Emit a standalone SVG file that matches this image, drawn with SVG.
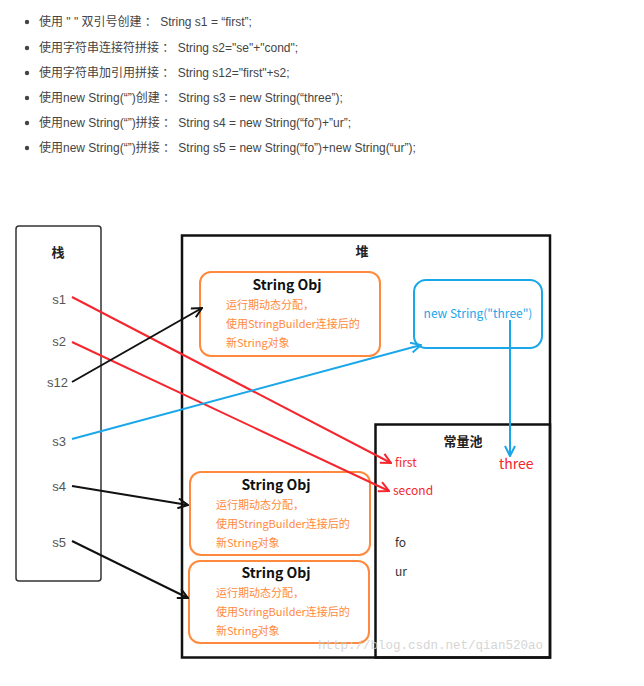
<svg xmlns="http://www.w3.org/2000/svg" width="644" height="686" viewBox="0 0 644 686">
<style>
.li{font-family:"Liberation Sans","Noto Sans CJK SC",sans-serif;font-size:12px;fill:#444}
.cn{font-family:"Noto Sans CJK SC",sans-serif}
.lbl{font-family:"Liberation Sans","Noto Sans CJK SC",sans-serif;font-size:13px;fill:#555;text-anchor:end}
.hd{font-family:"Noto Sans CJK SC",sans-serif;font-size:13px;font-weight:bold;fill:#222;text-anchor:middle}
.obj{fill:#fff;stroke:#ff8a3d;stroke-width:2}
.ot{font-family:"Noto Sans CJK SC","Liberation Sans",sans-serif;font-size:14px;font-weight:bold;fill:#111;text-anchor:middle}
.od{font-family:"Noto Sans CJK SC",sans-serif;font-size:11px;fill:#ff8a3d}
.red{stroke:#f5262e;stroke-width:2;fill:none}
.blk{stroke:#111;stroke-width:2;fill:none}
.blu{stroke:#1aa7ea;stroke-width:2;fill:none}
.pt{font-family:"Noto Sans CJK SC","Liberation Sans",sans-serif;font-size:12px}
</style>
<defs>
<marker id="ar" viewBox="0 0 12 12" refX="11" refY="6" markerWidth="12" markerHeight="12" markerUnits="userSpaceOnUse" orient="auto"><polyline points="1,1 11,6 1,11" fill="none" stroke="#f5262e" stroke-width="2"/></marker>
<marker id="ak" viewBox="0 0 12 12" refX="11" refY="6" markerWidth="12" markerHeight="12" markerUnits="userSpaceOnUse" orient="auto"><polyline points="1,1 11,6 1,11" fill="none" stroke="#111" stroke-width="2"/></marker>
<marker id="ab" viewBox="0 0 12 12" refX="11" refY="6" markerWidth="12" markerHeight="12" markerUnits="userSpaceOnUse" orient="auto"><polyline points="1,1 11,6 1,11" fill="none" stroke="#1aa7ea" stroke-width="2"/></marker>
</defs>
<rect width="644" height="686" fill="#fff"/>
<g id="list">
<circle cx="27" cy="22" r="2.2" fill="#444"/><text class="li" x="39" y="26">使用 " " 双引号创建 ： String s1 = “first”;</text>
<circle cx="27" cy="48" r="2.2" fill="#444"/><text class="li" x="39" y="52">使用字符串连接符拼接 ： String s2="se"+"cond";</text>
<circle cx="27" cy="73" r="2.2" fill="#444"/><text class="li" x="39" y="77">使用字符串加引用拼接 ： String s12="first"+s2;</text>
<circle cx="27" cy="98" r="2.2" fill="#444"/><text class="li" x="39" y="102">使用new String(“”)创建 ： String s3 = new String(“three”);</text>
<circle cx="27" cy="123" r="2.2" fill="#444"/><text class="li" x="39" y="127">使用new String(“”)拼接 ： String s4 = new String(“fo”)+”ur”;</text>
<circle cx="27" cy="148" r="2.2" fill="#444"/><text class="li" x="39" y="152">使用new String(“”)拼接 ： String s5 = new String(“fo”)+new String(“ur”);</text>
</g>
<g id="stack">
<rect x="16" y="226" width="85" height="355" rx="3" fill="#fff" stroke="#333" stroke-width="1.5"/>
<text class="hd" x="58" y="257">栈</text>
<text class="lbl" x="66" y="304">s1</text>
<text class="lbl" x="66" y="346">s2</text>
<text class="lbl" x="68" y="387">s12</text>
<text class="lbl" x="66" y="446">s3</text>
<text class="lbl" x="66" y="491">s4</text>
<text class="lbl" x="66" y="547">s5</text>
</g>
<g id="heap">
<rect x="182" y="235.5" width="368" height="422" fill="none" stroke="#111" stroke-width="2.5"/>
<text class="hd" x="362" y="256">堆</text>
</g>
<g id="pool">
<rect x="375.5" y="424.5" width="174.5" height="233" fill="none" stroke="#111" stroke-width="2.5"/>
<text class="hd" x="463" y="446">常量池</text>
<text class="pt" x="395" y="467" fill="#f5262e">first</text>
<text class="pt" x="499" y="469" fill="#f5262e" style="font-size:14px">three</text>
<text class="pt" x="393" y="495" fill="#f5262e">second</text>
<text class="pt" x="395" y="547" fill="#333">fo</text>
<text class="pt" x="395" y="576" fill="#333">ur</text>
</g>
<g id="obj1">
<rect class="obj" x="200" y="272" width="180" height="84" rx="11"/>
<text class="ot" x="287" y="290">String Obj</text>
<text class="od" x="226" y="309">运行期动态分配，</text>
<text class="od" x="226" y="328">使用StringBuilder连接后的</text>
<text class="od" x="226" y="347">新String对象</text>
</g>
<g id="obj2">
<rect class="obj" x="190" y="472" width="180" height="83" rx="11"/>
<text class="ot" x="276" y="490">String Obj</text>
<text class="od" x="216" y="509">运行期动态分配，</text>
<text class="od" x="216" y="528">使用StringBuilder连接后的</text>
<text class="od" x="216" y="547">新String对象</text>
</g>
<g id="obj3">
<rect class="obj" x="189" y="561" width="180" height="82" rx="11"/>
<text class="ot" x="276" y="578">String Obj</text>
<text class="od" x="216" y="597">运行期动态分配，</text>
<text class="od" x="216" y="616">使用StringBuilder连接后的</text>
<text class="od" x="216" y="635">新String对象</text>
</g>
<g id="newthree">
<rect x="414" y="280" width="128" height="68" rx="12" fill="#fff" stroke="#1aa7ea" stroke-width="2"/>
<text x="478" y="318" text-anchor="middle" fill="#1aa7ea" style="font-family:'Noto Sans CJK SC','Liberation Sans',sans-serif;font-size:12px">new String("three")</text>
</g>
<g id="connectors">
<line class="red" x1="72" y1="297" x2="391" y2="463" marker-end="url(#ar)"/>
<line class="red" x1="72" y1="342" x2="389" y2="491" marker-end="url(#ar)"/>
<line class="blk" x1="72" y1="382" x2="202" y2="308" marker-end="url(#ak)"/>
<line class="blu" x1="72" y1="439" x2="421" y2="345" marker-end="url(#ab)"/>
<line class="blk" x1="72" y1="486" x2="188" y2="505" marker-end="url(#ak)"/>
<line class="blk" x1="72" y1="541" x2="188" y2="598" marker-end="url(#ak)"/>
<line class="blu" x1="510" y1="320" x2="510" y2="456" marker-end="url(#ab)"/>
</g>
<text x="318" y="649" fill="#ccc" opacity="0.8" style="font-family:'Liberation Mono',monospace;font-size:12.5px">http://blog.csdn.net/qian520ao</text>
</svg>
